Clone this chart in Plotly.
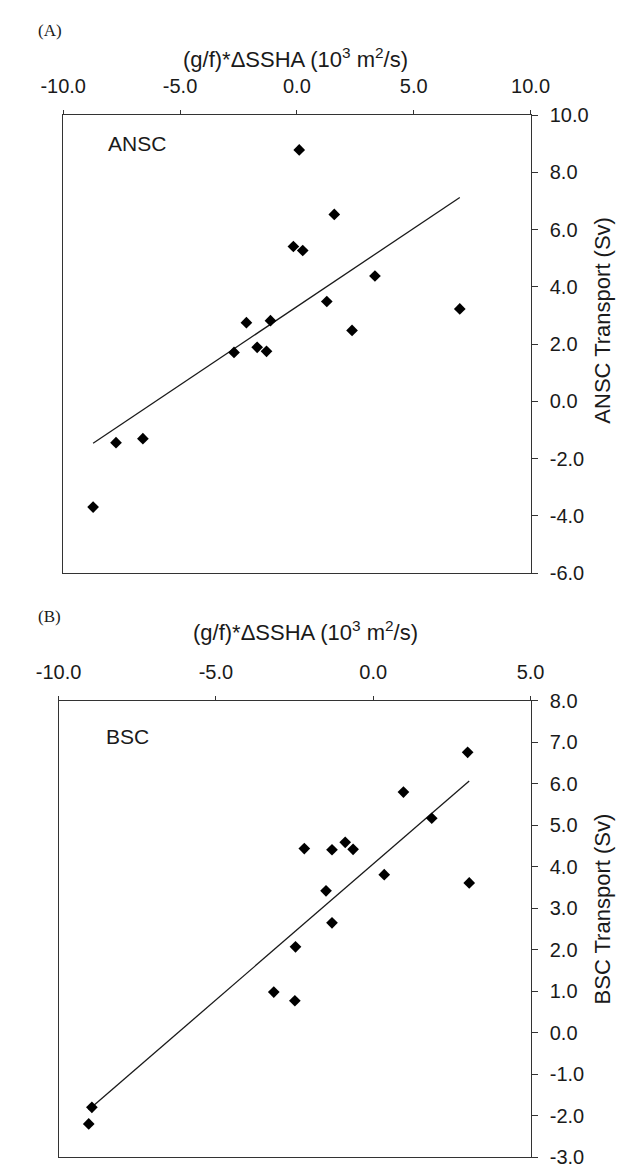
import numpy as np
import plotly.graph_objects as go

# ---------------- data ----------------
ansc_x = [0.1, 1.6, -0.15, 0.25, 3.34, 1.28, 6.97, -2.16, -1.13, 2.36,
          -2.69, -1.70, -1.30, -7.74, -6.59, -8.72]
ansc_y = [8.78, 6.53, 5.41, 5.27, 4.38, 3.49, 3.23, 2.75, 2.82, 2.48,
          1.71, 1.89, 1.75, -1.44, -1.30, -3.69]

bsc_x = [3.0, 0.96, 1.86, -2.19, -1.31, -0.89, -0.64, 0.35, 3.05, -1.50,
         -1.31, -2.47, -3.16, -2.49, -8.94, -9.04]
bsc_y = [6.76, 5.80, 5.17, 4.44, 4.41, 4.59, 4.42, 3.81, 3.61, 3.42,
         2.65, 2.07, 0.98, 0.77, -1.80, -2.20]

ansc_xticks = [-10.0, -5.0, 0.0, 5.0, 10.0]
ansc_yticks = [-6.0, -4.0, -2.0, 0.0, 2.0, 4.0, 6.0, 8.0, 10.0]
bsc_xticks = [-10.0, -5.0, 0.0, 5.0]
bsc_yticks = [-3.0, -2.0, -1.0, 0.0, 1.0, 2.0, 3.0, 4.0, 5.0, 6.0, 7.0, 8.0]

x_title = "(g/f)*ΔSSHA (10<sup>3</sup> m<sup>2</sup>/s)"
ansc_ytitle = "ANSC Transport (Sv)"
bsc_ytitle = "BSC Transport (Sv)"


def fit_line(xs, ys):
    xs = np.asarray(xs)
    ys = np.asarray(ys)
    k, b = np.polyfit(xs, ys, 1)
    fx = np.array([xs.min(), xs.max()])
    return fx, k * fx + b


W, H = 644, 1176


def px(x):
    return x / W


def py(y):
    return 1 - y / H


FONT = "Liberation Sans, Arial, sans-serif"
SERIF = "Liberation Serif, Times New Roman, serif"
INK = "#1a1a1a"

fig = go.Figure()

for xs, ys, xa, ya in [(ansc_x, ansc_y, "x", "y"), (bsc_x, bsc_y, "x2", "y2")]:
    fx, fy = fit_line(xs, ys)
    fig.add_trace(go.Scatter(x=fx, y=fy, mode="lines", xaxis=xa, yaxis=ya,
                             line=dict(color=INK, width=1.3), hoverinfo="skip"))
    fig.add_trace(go.Scatter(x=xs, y=ys, mode="markers", xaxis=xa, yaxis=ya,
                             marker=dict(symbol="diamond", size=9, color="black",
                                         line=dict(width=0))))


def xaxis(domain, anchor, ticks, rng):
    return dict(domain=domain, anchor=anchor, side="top", range=rng,
                tickvals=ticks, ticktext=[f"{t:.1f}" for t in ticks],
                showline=True, mirror=True, linecolor="#333", linewidth=1.3,
                ticks="outside", ticklen=4, tickcolor="#333", showgrid=False,
                zeroline=False, tickfont=dict(family=FONT, size=20, color=INK),
                ticklabelstandoff=9)


def yaxis(domain, anchor, ticks, rng):
    return dict(domain=domain, anchor=anchor, side="right", range=rng,
                tickvals=ticks, ticktext=[f"{t:.1f}" for t in ticks],
                showline=True, mirror=True, linecolor="#333", linewidth=1.3,
                ticks="outside", ticklen=6, tickcolor="#333", showgrid=False,
                zeroline=False, tickfont=dict(family=FONT, size=20, color=INK),
                ticklabelstandoff=8)


fig.update_layout(
    width=W, height=H, margin=dict(l=0, r=0, t=0, b=0),
    paper_bgcolor="white", plot_bgcolor="white", showlegend=False,
    xaxis=xaxis([px(43), px(543)], "y", ansc_xticks, [-10, 10]),
    yaxis=yaxis([py(573), py(106)], "x", ansc_yticks, [-6, 10]),
    xaxis2=xaxis([px(38), px(543)], "y2", bsc_xticks, [-10, 5]),
    yaxis2=yaxis([py(1168), py(703)], "x2", bsc_yticks, [-3, 8]),
)

ann = []
# panel letters
ann.append(dict(text="(A)", x=px(14), y=py(20), xanchor="left", yanchor="middle",
                font=dict(family=SERIF, size=17, color=INK)))
ann.append(dict(text="(B)", x=px(14), y=py(617), xanchor="left", yanchor="middle",
                font=dict(family=SERIF, size=17, color=INK)))
# x titles
ann.append(dict(text=x_title, x=px(291), y=py(48), xanchor="center", yanchor="middle",
                font=dict(family=FONT, size=22, color=INK)))
ann.append(dict(text=x_title, x=px(302), y=py(632), xanchor="center", yanchor="middle",
                font=dict(family=FONT, size=22, color=INK)))
# y titles
ann.append(dict(text=ansc_ytitle, x=px(620), y=py(315), xanchor="center", yanchor="middle",
                textangle=-90, font=dict(family=FONT, size=22, color=INK)))
ann.append(dict(text=bsc_ytitle, x=px(620), y=py(915), xanchor="center", yanchor="middle",
                textangle=-90, font=dict(family=FONT, size=22, color=INK)))
# in-panel labels
ann.append(dict(text="ANSC", x=px(89), y=py(135), xanchor="left", yanchor="middle",
                font=dict(family=FONT, size=21, color=INK)))
ann.append(dict(text="BSC", x=px(87), y=py(739), xanchor="left", yanchor="middle",
                font=dict(family=FONT, size=21, color=INK)))

for a in ann:
    a.update(xref="paper", yref="paper", showarrow=False)
fig.update_layout(annotations=ann)

fig.write_html("out.html")
